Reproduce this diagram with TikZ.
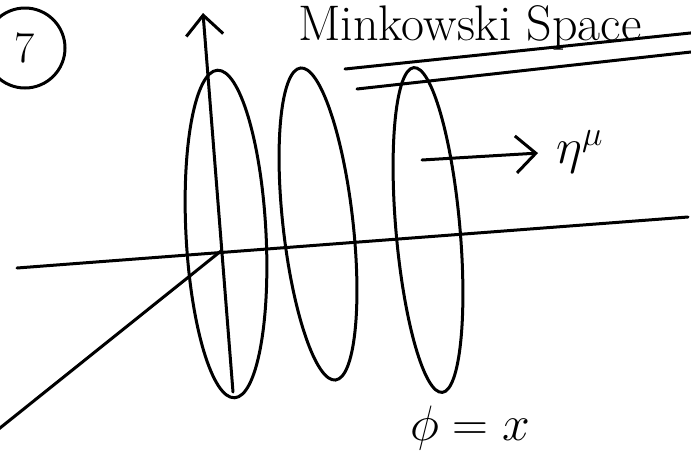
\documentclass[tikz,border=0pt]{standalone}
\usepackage{tikz}
\usetikzlibrary{arrows.meta,shapes.geometric,positioning}
\tikzset{
  mkline/.style={line width=1.5pt,black,line cap=round},
  mkslice/.style={ellipse,draw,line width=1.5pt,inner sep=0pt},
  mkarrow/.style={mkline,-{Straight Barb[length=3.5mm,width=6.5mm]}},
  mklabel/.style={font=\fontsize{24}{28}\selectfont,inner sep=0pt},
}
\begin{document}
\begin{tikzpicture}[x=0.5pt,y=-0.5pt]
  \useasboundingbox (0,0) rectangle (691,461);
  % page number
  \node[circle,draw,line width=1.5pt,minimum size=40pt,
        font=\fontsize{22}{24}\selectfont] (num) at (25,48) {7};
  \node[anchor=base west,inner sep=0pt,font=\fontsize{25}{30}\selectfont]
    (title) at (298,40) {Minkowski Space};
  \coordinate (u1l) at (345,69);
  \coordinate (u1r) at (700,32);
  \coordinate (u2l) at (357,89);
  \coordinate (u2r) at (700,51);
  \draw[mkline] (u1l) -- (u1r);
  \draw[mkline] (u2l) -- (u2r);

  % axes
  \coordinate (xl) at (17,268);
  \coordinate (xr) at (688,217);
  \coordinate (tb) at (233,392);
  \coordinate (tt) at (203,13);
  \coordinate (dl) at (-5,432);
  \coordinate (o) at (221,251);
  \draw[mkline] (xl) -- (xr);
  \draw[mkarrow] (tb) -- (tt);
  \draw[mkline] (dl) -- (o);

  % slices
  \node[mkslice,minimum width=40pt,minimum height=164pt,rotate=3]
    (s1) at (226,234) {};
  \node[mkslice,minimum width=35pt,minimum height=157pt,rotate=6.4]
    (s2) at (318,224) {};
  \node[mkslice,minimum width=32pt,minimum height=163pt,rotate=5]
    (s3) at (428,230) {};

  % normal vector
  \coordinate (na) at (422,160);
  \node[mklabel,anchor=west] (eta) at (556,152) {$\eta^\mu$};
  \draw[mkarrow,shorten >=9pt] (na) -- (eta.west);

  \node[mklabel] (phi) at (470,428) {$\phi = x$};
\end{tikzpicture}
\end{document}
